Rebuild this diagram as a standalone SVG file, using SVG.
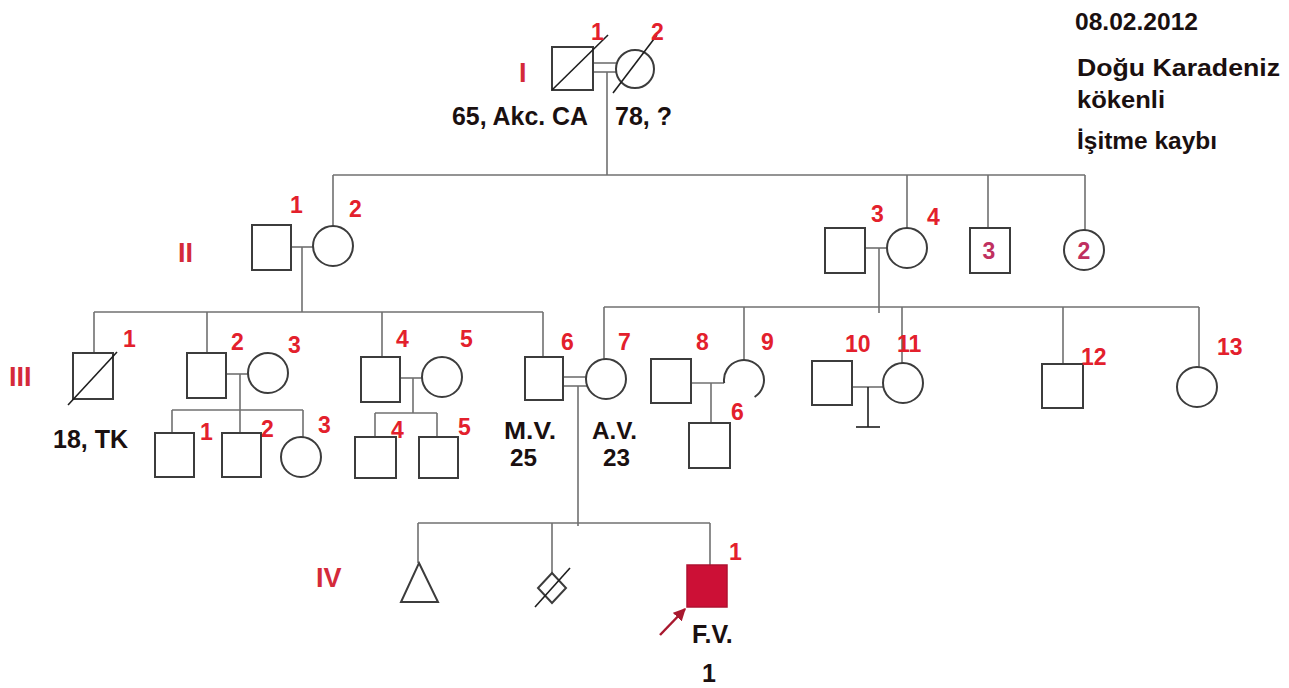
<svg xmlns="http://www.w3.org/2000/svg" width="1289" height="688" viewBox="0 0 1289 688">
<style>
.bg{fill:#ffffff}
.c{stroke:#707070;stroke-width:1.6;fill:none}
.s{stroke:#3c3c3c;stroke-width:2;fill:#ffffff}
.sl{stroke:#1e1e1e;stroke-width:1.6;fill:none}
.n{font-family:"Liberation Sans",Arial,sans-serif;font-weight:bold;font-size:23px;fill:#e3202c}
.r{font-family:"Liberation Sans",Arial,sans-serif;font-weight:bold;font-size:27px;fill:#d42a3a}
.t{font-family:"Liberation Sans",Arial,sans-serif;font-weight:bold;font-size:24px;fill:#1a1010}
.tn{font-family:"Liberation Sans",Arial,sans-serif;font-weight:bold;font-size:25px;fill:#1a1010}
.ts{font-family:"Liberation Sans",Arial,sans-serif;font-weight:bold;font-size:23px;fill:#1a1010}
.in{font-family:"Liberation Sans",Arial,sans-serif;font-weight:bold;font-size:23px;fill:#c03060;text-anchor:middle}
.aff{fill:#cc1036;stroke:#b01030;stroke-width:1.5}
</style>
<defs>
<marker id="ah" viewBox="0 0 10 10" refX="9" refY="5" markerWidth="5" markerHeight="5" orient="auto">
<path d="M0,0 L10,5 L0,10 z" fill="#a8182e"/>
</marker>
</defs>
<rect class="bg" x="0" y="0" width="1289" height="688"/>

<g id="connectors">
<line class="c" x1="593" y1="63" x2="616" y2="63"/>
<line class="c" x1="593" y1="72" x2="616" y2="72"/>
<line class="c" x1="607" y1="72" x2="607" y2="175"/>
<line class="c" x1="333" y1="175" x2="1085" y2="175"/>
<line class="c" x1="333" y1="175" x2="333" y2="226"/>
<line class="c" x1="907" y1="175" x2="907" y2="228"/>
<line class="c" x1="988" y1="175" x2="988" y2="228"/>
<line class="c" x1="1085" y1="175" x2="1085" y2="230"/>
<line class="c" x1="291" y1="247" x2="313" y2="247"/>
<line class="c" x1="302" y1="247" x2="302" y2="312"/>
<line class="c" x1="94" y1="312" x2="543" y2="312"/>
<line class="c" x1="94" y1="312" x2="94" y2="353"/>
<line class="c" x1="207" y1="312" x2="207" y2="353"/>
<line class="c" x1="382" y1="312" x2="382" y2="357"/>
<line class="c" x1="543" y1="312" x2="543" y2="357"/>
<line class="c" x1="865" y1="248" x2="887" y2="248"/>
<line class="c" x1="879" y1="248" x2="879" y2="313"/>
<line class="c" x1="604" y1="307" x2="1199" y2="307"/>
<line class="c" x1="604" y1="307" x2="604" y2="359"/>
<line class="c" x1="744" y1="307" x2="744" y2="360"/>
<line class="c" x1="902" y1="307" x2="902" y2="363"/>
<line class="c" x1="1063" y1="307" x2="1063" y2="364"/>
<line class="c" x1="1199" y1="307" x2="1199" y2="367"/>
<line class="c" x1="226" y1="374" x2="248" y2="374"/>
<line class="c" x1="240" y1="374" x2="240" y2="433"/>
<line class="c" x1="172" y1="410" x2="303" y2="410"/>
<line class="c" x1="172" y1="410" x2="172" y2="433"/>
<line class="c" x1="303" y1="410" x2="303" y2="437"/>
<line class="c" x1="400" y1="378" x2="422" y2="378"/>
<line class="c" x1="413" y1="378" x2="413" y2="413"/>
<line class="c" x1="375" y1="413" x2="437" y2="413"/>
<line class="c" x1="375" y1="413" x2="375" y2="437"/>
<line class="c" x1="437" y1="413" x2="437" y2="437"/>
<line class="c" x1="563" y1="377" x2="587" y2="377"/>
<line class="c" x1="563" y1="386" x2="587" y2="386"/>
<line class="c" x1="578" y1="386" x2="578" y2="526"/>
<line class="c" x1="691" y1="383" x2="724" y2="383"/>
<line class="c" x1="711" y1="383" x2="711" y2="423"/>
<line class="c" x1="852" y1="387" x2="883" y2="387"/>
<line class="sl" x1="868" y1="387" x2="868" y2="427"/>
<line class="sl" x1="856" y1="427" x2="880" y2="427"/>
<line class="c" x1="418" y1="523" x2="710" y2="523"/>
<line class="c" x1="418" y1="523" x2="418" y2="563"/>
<line class="c" x1="552" y1="523" x2="552" y2="573"/>
<line class="c" x1="710" y1="523" x2="710" y2="565"/>
</g>

<g id="labels-generation">
<text class="r" x="519" y="82">I</text>
<text class="r" x="178" y="262">II</text>
<text class="r" x="9" y="386">III</text>
<text class="r" x="316" y="587">IV</text>
</g>

<g id="note">
<text class="t" x="1075" y="30" textLength="123" lengthAdjust="spacingAndGlyphs">08.02.2012</text>
<text class="t" x="1077" y="76" textLength="203" lengthAdjust="spacingAndGlyphs">Doğu Karadeniz</text>
<text class="t" x="1077" y="108" textLength="88" lengthAdjust="spacingAndGlyphs">kökenli</text>
<text class="t" x="1077" y="149" textLength="140" lengthAdjust="spacingAndGlyphs">İşitme kaybı</text>
</g>

<g id="I-1">
<rect class="s" x="552" y="47" width="41" height="43"/>
<line class="sl" x1="552" y1="90" x2="608" y2="35"/>
<text class="n" x="591" y="40">1</text>
<text class="tn" x="452" y="125" textLength="136" lengthAdjust="spacingAndGlyphs">65, Akc. CA</text>
</g>
<g id="I-2">
<circle class="s" cx="635" cy="69" r="19"/>
<line class="sl" x1="613" y1="93" x2="657" y2="35"/>
<text class="n" x="651" y="40">2</text>
<text class="tn" x="615" y="125">78, ?</text>
</g>

<g id="II-1">
<rect class="s" x="252" y="225" width="39" height="45"/>
<text class="n" x="290" y="213">1</text>
</g>
<g id="II-2">
<circle class="s" cx="333" cy="246" r="20"/>
<text class="n" x="349" y="217">2</text>
</g>
<g id="II-3">
<rect class="s" x="825" y="228" width="40" height="45"/>
<text class="n" x="871" y="222">3</text>
</g>
<g id="II-4">
<circle class="s" cx="907" cy="248" r="20"/>
<text class="n" x="927" y="225">4</text>
</g>
<g id="II-brothers">
<rect class="s" x="970" y="228" width="40" height="45"/>
<text class="in" x="989" y="259">3</text>
</g>
<g id="II-sisters">
<circle class="s" cx="1084" cy="250" r="20"/>
<text class="in" x="1084" y="259">2</text>
</g>

<g id="III-1">
<rect class="s" x="73" y="353" width="40" height="46"/>
<line class="sl" x1="68" y1="405" x2="117" y2="352"/>
<text class="n" x="123" y="347">1</text>
<text class="tn" x="53" y="448">18, TK</text>
</g>
<g id="III-2">
<rect class="s" x="187" y="353" width="39" height="45"/>
<text class="n" x="231" y="350">2</text>
</g>
<g id="III-3">
<circle class="s" cx="268" cy="373" r="20"/>
<text class="n" x="288" y="353">3</text>
</g>
<g id="III-2-c1">
<rect class="s" x="155" y="433" width="39" height="44"/>
<text class="n" x="200" y="440">1</text>
</g>
<g id="III-2-c2">
<rect class="s" x="222" y="433" width="39" height="44"/>
<text class="n" x="261" y="437">2</text>
</g>
<g id="III-2-c3">
<circle class="s" cx="301" cy="457" r="20"/>
<text class="n" x="318" y="433">3</text>
</g>
<g id="III-4">
<rect class="s" x="361" y="357" width="39" height="45"/>
<text class="n" x="396" y="347">4</text>
</g>
<g id="III-5">
<circle class="s" cx="442" cy="377" r="20"/>
<text class="n" x="460" y="347">5</text>
</g>
<g id="III-4-c4">
<rect class="s" x="355" y="437" width="41" height="41"/>
<text class="n" x="391" y="438">4</text>
</g>
<g id="III-4-c5">
<rect class="s" x="419" y="437" width="39" height="41"/>
<text class="n" x="458" y="435">5</text>
</g>
<g id="III-6">
<rect class="s" x="525" y="357" width="38" height="43"/>
<text class="n" x="561" y="350">6</text>
<text class="ts" x="504" y="439" textLength="52" lengthAdjust="spacingAndGlyphs">M.V.</text>
<text class="ts" x="510" y="466" textLength="27" lengthAdjust="spacingAndGlyphs">25</text>
</g>
<g id="III-7">
<circle class="s" cx="606" cy="379" r="20"/>
<text class="n" x="618" y="350">7</text>
<text class="ts" x="592" y="439" textLength="45" lengthAdjust="spacingAndGlyphs">A.V.</text>
<text class="ts" x="603" y="466" textLength="27" lengthAdjust="spacingAndGlyphs">23</text>
</g>
<g id="III-8">
<rect class="s" x="651" y="359" width="40" height="44"/>
<text class="n" x="696" y="350">8</text>
</g>
<g id="III-9">
<path class="s" fill="none" d="M724.2,383.1 A20,20 0 1 1 754.6,397"/>
<text class="n" x="761" y="350">9</text>
</g>
<g id="III-8-c6">
<rect class="s" x="689" y="423" width="41" height="45"/>
<text class="n" x="731" y="420">6</text>
</g>
<g id="III-10">
<rect class="s" x="812" y="361" width="40" height="44"/>
<text class="n" x="845" y="352">10</text>
</g>
<g id="III-11">
<circle class="s" cx="903" cy="383" r="20"/>
<text class="n" x="897" y="352">11</text>
</g>
<g id="III-12">
<rect class="s" x="1042" y="364" width="41" height="44"/>
<text class="n" x="1081" y="365">12</text>
</g>
<g id="III-13">
<circle class="s" cx="1197" cy="387" r="20"/>
<text class="n" x="1217" y="355">13</text>
</g>

<g id="IV-triangle">
<polygon class="s" points="419,563 438,602 401,602"/>
</g>
<g id="IV-diamond">
<polygon class="s" points="552,573 566,588 552,603 538,588"/>
<line class="sl" x1="535" y1="607" x2="570" y2="568"/>
</g>
<g id="IV-1">
<rect class="aff" x="687" y="565" width="40" height="42"/>
<line x1="660" y1="635" x2="685" y2="609" stroke="#a8182e" stroke-width="2.5" marker-end="url(#ah)"/>
<text class="n" x="729" y="560">1</text>
<text class="tn" x="692" y="643">F.V.</text>
<text class="tn" x="702" y="682">1</text>
</g>
</svg>
